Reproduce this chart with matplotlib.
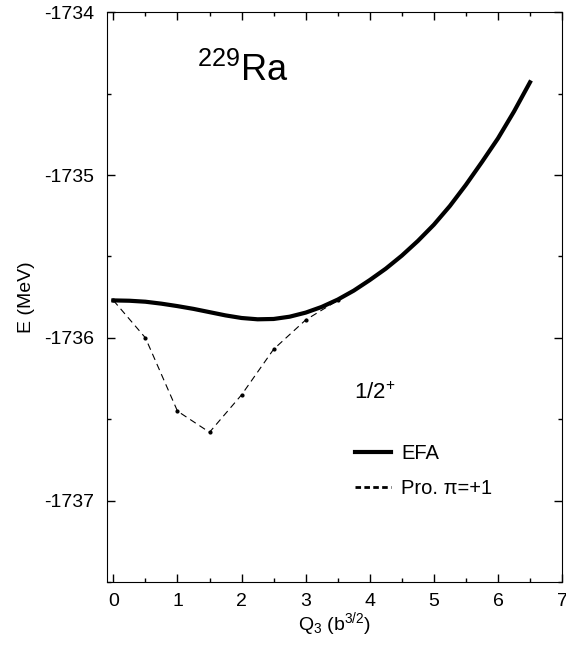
import matplotlib
matplotlib.use("Agg")
import matplotlib.pyplot as plt
from matplotlib.ticker import MultipleLocator

plt.rcParams['font.family'] = ['Liberation Sans', 'DejaVu Sans']
plt.rcParams['mathtext.fontset'] = 'custom'
plt.rcParams['mathtext.rm'] = 'Liberation Sans'
plt.rcParams['mathtext.it'] = 'Liberation Sans:italic'
plt.rcParams['axes.unicode_minus'] = False

# EFA curve
q3_efa = [0.0, 0.25, 0.5, 0.75, 1.0, 1.25, 1.5, 1.75, 2.0, 2.25, 2.5, 2.75, 3.0,
          3.25, 3.5, 3.75, 4.0, 4.25, 4.5, 4.75, 5.0, 5.25, 5.5, 5.75, 6.0, 6.25, 6.5]
e_efa = [-1735.770, -1735.772, -1735.778, -1735.790, -1735.805, -1735.822, -1735.842,
         -1735.862, -1735.878, -1735.886, -1735.884, -1735.870, -1735.845, -1735.810,
         -1735.765, -1735.710, -1735.645, -1735.575, -1735.495, -1735.405, -1735.305,
         -1735.190, -1735.060, -1734.920, -1734.775, -1734.610, -1734.430]

# projected pi=+1 points
q3_pro = [0.0, 0.5, 1.0, 1.5, 2.0, 2.5, 3.0, 3.5]
e_pro = [-1735.77, -1736.00, -1736.45, -1736.58, -1736.35, -1736.07, -1735.89, -1735.77]

fig = plt.figure(figsize=(5.66, 6.46), dpi=100)
ax = fig.add_axes([0.189, 0.099, 0.804, 0.882])

l1, = ax.plot(q3_efa, e_efa, color='black', lw=3, label='EFA')
l2, = ax.plot(q3_pro, e_pro, color='black', lw=0.8, ls=(0, (6, 4)), marker='o', ms=2,
              label='Pro. π=+1')

ax.set_xlim(-0.1, 7)
ax.set_ylim(-1737.5, -1734)
ax.xaxis.set_major_locator(MultipleLocator(1))
ax.xaxis.set_minor_locator(MultipleLocator(0.5))
ax.yaxis.set_major_locator(MultipleLocator(1))
ax.yaxis.set_minor_locator(MultipleLocator(0.5))
ax.tick_params(which='both', direction='in', top=True, right=True, labelsize=14)
ax.tick_params(which='major', length=6, width=1)
ax.tick_params(which='minor', length=3, width=1)
ax.tick_params(axis='x', pad=8)
ax.tick_params(axis='y', pad=9)

ax.set_xlabel('Q$_3$ (b$^{3/2}$)', fontsize=14, labelpad=0)
ax.set_ylabel('E (MeV)', fontsize=14, labelpad=7)

ax.text(1.3, -1734.42, '$^{229}$Ra', fontsize=26)
ax.text(3.75, -1736.34, '1/2$^{+}$', fontsize=16, va='center')

leg = ax.legend(handles=[l1, l2], loc='center left', bbox_to_anchor=(0.505, 0.195),
                frameon=False, fontsize=14.5, handlelength=1.8, handletextpad=0.5,
                labelspacing=0.8)
leg.legend_handles[1].set_marker('')
leg.legend_handles[1].set_linewidth(2)
leg.legend_handles[1].set_linestyle((0, (2, 1.2)))

fig.savefig('out.png', dpi=100)
